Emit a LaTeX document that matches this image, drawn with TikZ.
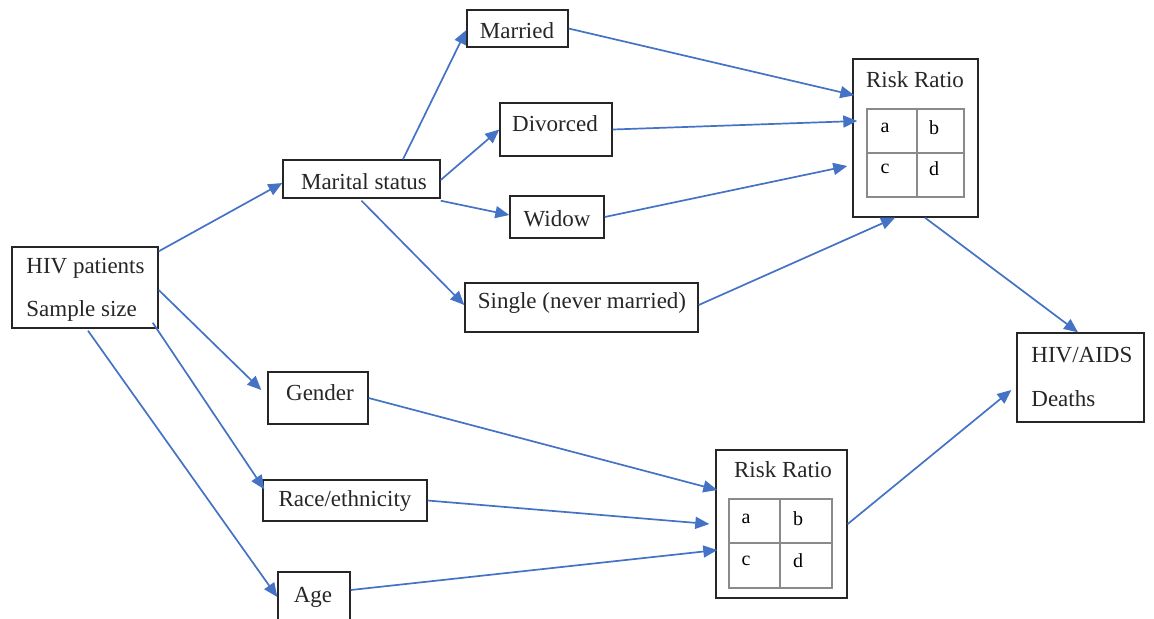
\documentclass[tikz,border=0pt]{standalone}
\usepackage{fontspec}
\setmainfont{Liberation Serif}
\usetikzlibrary{arrows.meta,calc}
\definecolor{arrowblue}{HTML}{4472C4}
\definecolor{gridgray}{HTML}{8A8A8A}
\definecolor{txtgray}{HTML}{262626}
\tikzset{
  box/.style={draw=black!85,line width=0.7pt,fill=white,inner sep=0pt},
  txt/.style={inner sep=0pt,text=txtgray,font=\fontsize{11.5pt}{13pt}\selectfont},
  ltxt/.style={txt,anchor=west},
  cell/.style={inner sep=0pt,text=black,font=\fontsize{10pt}{12pt}\selectfont},
  conn/.style={draw=arrowblue,line width=0.85pt,-{Triangle[length=7pt,width=6pt]}},
  grid/.style={draw=gridgray,line width=0.7pt}
}
\begin{document}
\begin{tikzpicture}[x=0.5pt,y=-0.5pt]
\useasboundingbox (0,0) rectangle (1154,618);
% boxes
\node[box,minimum width=73pt,minimum height=40.5pt] (hiv) at (85,287.5) {};
\node[ltxt] at (26,268) {HIV patients};
\node[ltxt] at (26,311) {Sample size};

\node[box,minimum width=78.5pt,minimum height=19pt] (marital) at (361.5,179) {};
\node[txt] at (364,182) {Marital status};

\node[box,minimum width=50.5pt,minimum height=18.5pt] (married) at (517.5,28.5) {};
\node[txt] at (517,31) {Married};

\node[box,minimum width=56pt,minimum height=26.5pt] (divorced) at (556,129.5) {};
\node[txt] at (555,124) {Divorced};

\node[box,minimum width=47pt,minimum height=21pt] (widow) at (557,217) {};
\node[txt] at (557,219) {Widow};

\node[box,minimum width=116.5pt,minimum height=24.5pt] (single) at (581.5,307.5) {};
\node[txt] at (582,303) {Single (never married)};

\node[box,minimum width=50pt,minimum height=26pt] (gender) at (318,398) {};
\node[txt] at (320,393) {Gender};

\node[box,minimum width=82pt,minimum height=20.5pt] (race) at (345,500.5) {};
\node[txt] at (345,501) {Race/ethnicity};

\node[box,minimum width=36pt,minimum height=30pt] (age) at (314,602) {};
\node[txt] at (313,597) {Age};

\node[box,minimum width=63.5pt,minimum height=44.5pt] (deaths) at (1080.5,377.5) {};
\node[ltxt] at (1031,355) {HIV/AIDS};
\node[ltxt] at (1031,399) {Deaths};

% risk ratio top
\node[box,minimum width=62.5pt,minimum height=79pt] (rrtop) at (915.5,138) {};
\node[txt] at (915,80) {Risk Ratio};
\draw[grid] (867,109) rectangle (964,197);
\draw[grid] (917,109) -- (917,197);
\draw[grid] (867,153) -- (964,153);
\node[cell] at (885,128) {a};
\node[cell] at (934,128) {b};
\node[cell] at (885,169) {c};
\node[cell] at (934,169) {d};

% risk ratio bottom
\node[box,minimum width=65.5pt,minimum height=74pt] (rrbot) at (781.5,524) {};
\node[txt] at (783,470) {Risk Ratio};
\draw[grid] (729,499) rectangle (832,588);
\draw[grid] (780,499) -- (780,588);
\draw[grid] (729,543) -- (832,543);
\node[cell] at (746,519) {a};
\node[cell] at (798,519) {b};
\node[cell] at (746,561) {c};
\node[cell] at (798,561) {d};

% connectors
\draw[conn] ($(hiv.north east)+(0,5)$) -- ($(marital.west)+(0,4)$);
\draw[conn] ($(hiv.east)+(0,2.5)$) -- ($(gender.west)+(-6,-8)$);
\draw[conn] ($(hiv.south east)+(-6,-6)$) -- ($(race.north west)+(2,10)$);
\draw[conn] ($(hiv.south)+(3,2)$) -- ($(age.west)+(0,-5)$);
\draw[conn] ($(marital.north)+(41.5,0)$) -- ($(married.west)+(0,1.5)$);
\draw[conn] ($(marital.east)+(0,1)$) -- (divorced.west);
\draw[conn] ($(marital.south east)+(0,2)$) -- ($(widow.west)+(0,-2)$);
\draw[conn] ($(marital.south)+(0,2)$) -- ($(single.west)+(0,-2.5)$);
\draw[conn] (married.east) -- ($(rrtop.north west)+(2,37)$);
\draw[conn] (divorced.east) -- ($(rrtop.west)+(5,-17)$);
\draw[conn] (widow.east) -- ($(rrtop.west)+(-5,28)$);
\draw[conn] ($(single.east)+(0,-2.5)$) -- ($(rrtop.south)+(-20.5,0)$);
\draw[conn] ($(rrtop.south)+(9.5,0)$) -- ($(deaths.north)+(-2.5,0)$);
\draw[conn] (gender.east) -- ($(rrbot.west)+(2,-34)$);
\draw[conn] (race.east) -- ($(rrbot.west)+(-6,0)$);
\draw[conn] ($(age.east)+(0,-12)$) -- ($(rrbot.west)+(2,26)$);
\draw[conn] (rrbot.east) -- ($(deaths.west)+(-5,12.5)$);
\end{tikzpicture}
\end{document}
